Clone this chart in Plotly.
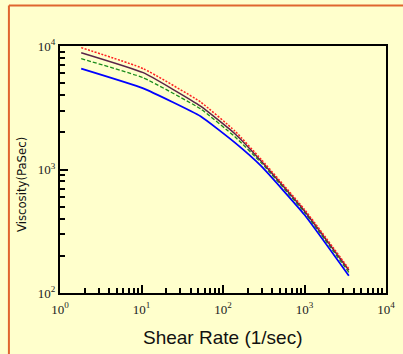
import plotly.graph_objects as go

shear_rate = [1.82, 10.5, 53, 140, 295, 1000, 3500]
visc_red = [9700, 6560, 3520, 2050, 1205, 475, 157]
visc_purple = [8830, 6080, 3260, 1950, 1167, 462, 153]
visc_green = [7890, 5530, 3100, 1840, 1132, 450, 147]
visc_blue = [6560, 4540, 2700, 1650, 1064, 430, 138]

x_tickvals = [1, 10, 100, 1000, 10000]
x_ticktext = ["10<sup>0</sup>", "10<sup>1</sup>", "10<sup>2</sup>", "10<sup>3</sup>", "10<sup>4</sup>"]
y_tickvals = [100, 1000, 10000]
y_ticktext = ["10<sup>2</sup>", "10<sup>3</sup>", "10<sup>4</sup>"]

x_minor = [m * 10 ** d for d in range(0, 4) for m in range(2, 10)]
y_minor = [m * 10 ** d for d in range(2, 4) for m in range(2, 10)]

bg = "#FFFFCC"
fig = go.Figure()
series = [
    (visc_blue, "#0000FF", "solid", 1.8),
    (visc_green, "#1A8C1A", "4px,2px", 1.3),
    (visc_purple, "#5A2448", "solid", 1.5),
    (visc_red, "#FF2020", "2px,1.5px", 1.5),
]
for ys, col, dash, w in series:
    fig.add_trace(go.Scatter(x=shear_rate, y=ys, mode="lines",
                             line=dict(color=col, dash=dash, width=w, shape="spline", smoothing=0.4),
                             showlegend=False))

tickfont = dict(family="Liberation Serif, Times New Roman, serif", size=13, color="#222")
fig.update_xaxes(type="log", range=[0, 4], tickmode="array", tickvals=x_tickvals,
                 ticktext=x_ticktext, ticks="inside", ticklen=8, tickwidth=2,
                 tickcolor="black", showline=True, linewidth=2, linecolor="black",
                 mirror=True, showgrid=False, zeroline=False, tickfont=tickfont,
                 ticklabelstandoff=3,
                 minor=dict(tickmode="array", tickvals=x_minor, ticks="inside",
                            ticklen=5, tickwidth=2, tickcolor="black", showgrid=False))
fig.update_yaxes(type="log", range=[2, 4], tickmode="array", tickvals=y_tickvals,
                 ticktext=y_ticktext, ticks="inside", ticklen=8, tickwidth=2,
                 tickcolor="black", showline=True, linewidth=2, linecolor="black",
                 mirror=True, showgrid=False, zeroline=False, tickfont=tickfont,
                 minor=dict(tickmode="array", tickvals=y_minor, ticks="inside",
                            ticklen=5, tickwidth=2, tickcolor="black", showgrid=False))

L, R, T, B = 60, 8, 46, 61
W, H = 403, 354
pw, ph = W - L - R, H - T - B

def px(xp):
    return (xp - L) / pw

def py(yp):
    return (H - B - yp) / ph

fig.add_shape(type="line", xref="paper", yref="paper", x0=px(7.5), x1=px(7.5),
              y0=py(400), y1=py(5.5), line=dict(color="#E0662E", width=2))
fig.add_shape(type="line", xref="paper", yref="paper", x0=px(7.5), x1=px(420),
              y0=py(5.5), y1=py(5.5), line=dict(color="#E0662E", width=2))

fig.add_annotation(text="Viscosity(PaSec)", textangle=-90, xref="paper", yref="paper",
                   x=px(20), y=py(185), showarrow=False, xanchor="center", yanchor="middle",
                   font=dict(family="DejaVu Sans Condensed, Liberation Sans Narrow, Liberation Sans, sans-serif",
                             size=13, color="#111"))
fig.add_annotation(text="Shear Rate (1/sec)", xref="paper", yref="paper",
                   x=px(227), y=py(337), showarrow=False, xanchor="center", yanchor="middle",
                   font=dict(family="Liberation Sans, Arial, sans-serif", size=19, color="#111"))

fig.update_layout(width=W, height=H, margin=dict(l=L, r=R, t=T, b=B),
                  paper_bgcolor=bg, plot_bgcolor=bg)
fig.write_html("out.html")
